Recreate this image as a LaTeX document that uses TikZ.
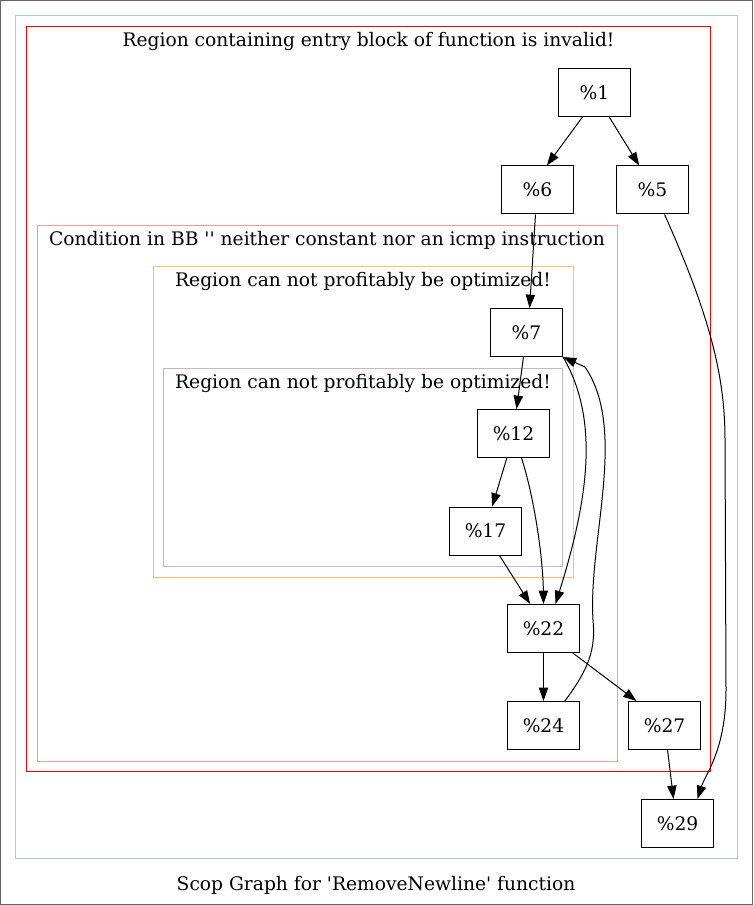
\documentclass[tikz,border=0pt]{standalone}
\usepackage{fontspec}
\setmainfont{DejaVu Serif}
\usetikzlibrary{arrows.meta}

\definecolor{clblue}{RGB}{166,206,227}
\definecolor{clpink}{RGB}{251,154,153}
\definecolor{clorange}{RGB}{253,191,111}
\definecolor{clpurple}{RGB}{202,178,214}

\begin{document}
\begin{tikzpicture}[x=0.75pt, y=-0.75pt, line width=0.75pt,
  >={Triangle[length=10pt,width=7pt]},
  block/.style={draw, rectangle, minimum width=54pt, minimum height=36pt, inner sep=0pt, font=\fontsize{14pt}{17pt}\selectfont},
  region/.style={line width=1pt},
  title/.style={anchor=base, inner sep=0pt, font=\fontsize{14pt}{17pt}\selectfont}]
\useasboundingbox (0,0) rectangle (753,905);
\draw[gray!80!black] (0.5,0.5) rectangle (752.5,904.5);

% regions
\draw[region, clblue] (15.5,15.5) rectangle (737.5,858.5);
\draw[region, red] (26.5,26.5) rectangle (710.5,771.5);
\draw[region, clpink] (37.5,225.5) rectangle (617.5,761.5);
\draw[region, clorange] (153.5,266.5) rectangle (573.5,577.5);
\draw[region, clpurple] (163.5,368.5) rectangle (562.5,566.5);

\node[title] (t1) at (368.5,46.5) {Region containing entry block of function is invalid!};
\node[title] (t2) at (327,246) {Condition in BB \textquotesingle\textquotesingle{} neither constant nor an icmp instruction};
\node[title] (t3) at (363,286.5) {Region can not profitably be optimized!};
\node[title] (t4) at (363,388) {Region can not profitably be optimized!};
\node[title] (caption) at (376,890) {Scop Graph for \textquotesingle RemoveNewline\textquotesingle{} function};

% blocks
\node[block] (b1) at (594.5,92.5) {\%1};
\node[block] (b6) at (537.5,190) {\%6};
\node[block] (b5) at (652.5,190) {\%5};
\node[block] (b7) at (526.5,332.5) {\%7};
\node[block] (b12) at (513.5,433.5) {\%12};
\node[block] (b17) at (485.5,531) {\%17};
\node[block] (b22) at (543.5,628.5) {\%22};
\node[block] (b24) at (543.5,725.5) {\%24};
\node[block] (b27) at (664.5,725.5) {\%27};
\node[block] (b29) at (677.5,823.5) {\%29};

\draw[->] ([xshift=-9pt]b1.south) -- ([xshift=7pt]b6.north);
\draw[->] ([xshift=11pt]b1.south) -- ([xshift=-10pt]b5.north);
\draw[->] ([xshift=-1.5pt]b6.south) -- ([xshift=2.3pt]b7.north);
\draw[->] ([xshift=9pt]b5.south) .. controls (712,320) and (725,380) .. (725,440)
  -- (726,690) .. controls (726,750) and (705,775) .. ([xshift=15pt]b29.north);
\draw[->] ([xshift=-2.3pt]b7.south) -- ([xshift=2.3pt]b12.north);
\draw[->] (b7.south east) .. controls (600,420) and (588,500) .. ([xshift=9pt]b22.north);
\draw[->] ([xshift=-5pt]b12.south) -- ([xshift=5pt]b17.north);
\draw[->] ([xshift=6pt]b12.south) .. controls (535,500) and (543,560) .. (b22.north);
\draw[->] ([xshift=10.5pt]b17.south) -- ([xshift=-10pt]b22.north);
\draw[->] (b22) -- (b24);
\draw[->] ([xshift=22pt]b22.south) -- ([xshift=-21pt]b27.north);
\draw[->] ([xshift=16pt]b24.north) .. controls (588,670) and (596,650) .. (593,620)
  .. controls (588,540) and (628,430) .. (585,367) -- (b7.south east);
\draw[->] ([xshift=2.3pt]b27.south) -- ([xshift=-3pt]b29.north);
\end{tikzpicture}
\end{document}
